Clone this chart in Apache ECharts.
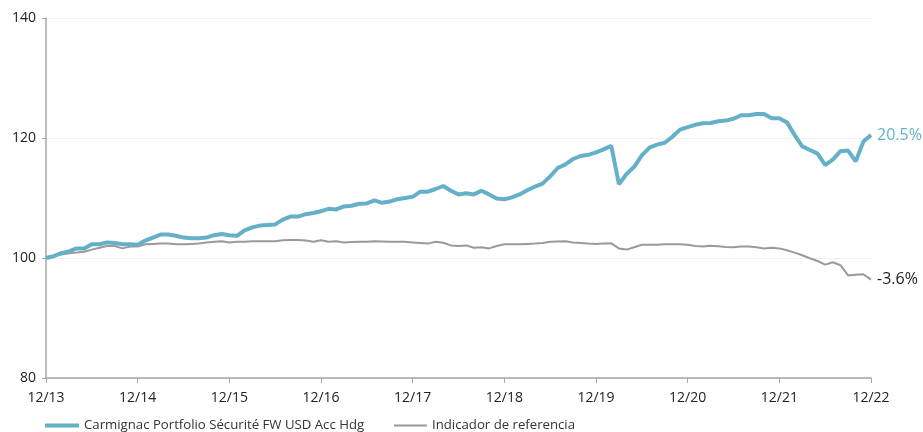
<!DOCTYPE html>
<html>
<head>
<meta charset="utf-8">
<script src="https://cdn.jsdelivr.net/npm/echarts@6/dist/echarts.min.js"></script>
<style>
html,body{margin:0;padding:0;background:#fff;}
#chart{width:923px;height:432px;}
</style>
</head>
<body>
<div id="chart"></div>
<script>
// Months from 12/2013 to 12/2022 (109 points); year labels shown every 12 months
var yearLabels = ['12/13','12/14','12/15','12/16','12/17','12/18','12/19','12/20','12/21','12/22'];
var seriesNames = ['Carmignac Portfolio Sécurité FW USD Acc Hdg', 'Indicador de referencia'];

var fundValues = [
  100.0,100.3,100.8,101.1,101.6,101.6,102.3,102.3,102.6,102.5,102.3,102.3,
  102.2,102.9,103.4,103.9,103.9,103.7,103.4,103.3,103.3,103.4,103.8,104.0,
  103.8,103.7,104.6,105.1,105.4,105.5,105.6,106.4,106.9,106.9,107.3,107.5,
  107.8,108.2,108.1,108.6,108.7,109.05,109.1,109.6,109.2,109.4,109.8,110.0,
  110.2,111.05,111.05,111.5,112.0,111.2,110.6,110.8,110.6,111.2,110.6,109.9,
  109.8,110.1,110.6,111.3,111.9,112.4,113.6,115.0,115.6,116.5,117.0,117.2,
  117.6,118.1,118.7,112.3,114.0,115.2,117.1,118.4,118.9,119.2,120.2,121.4,
  121.8,122.2,122.45,122.5,122.8,122.9,123.2,123.8,123.8,124.0,124.0,123.3,
  123.3,122.6,120.5,118.6,118.0,117.4,115.5,116.4,117.8,117.9,116.1,119.4,
  120.5
];
var benchValues = [
  100.0,100.3,100.6,100.8,100.9,101.05,101.4,101.7,102.0,102.0,101.6,101.9,
  101.9,102.3,102.35,102.4,102.4,102.3,102.3,102.35,102.4,102.6,102.7,102.8,
  102.6,102.7,102.7,102.8,102.8,102.8,102.8,102.95,103.0,103.0,102.9,102.7,
  102.95,102.7,102.8,102.6,102.65,102.7,102.7,102.8,102.75,102.7,102.7,102.7,
  102.6,102.5,102.4,102.7,102.55,102.1,102.0,102.1,101.7,101.8,101.6,102.0,
  102.3,102.3,102.3,102.35,102.4,102.5,102.7,102.75,102.8,102.6,102.5,102.4,
  102.35,102.4,102.45,101.6,101.4,101.8,102.2,102.2,102.2,102.3,102.3,102.3,
  102.2,102.0,101.9,102.05,101.95,101.85,101.8,101.9,101.9,101.8,101.6,101.7,
  101.6,101.3,100.9,100.45,99.95,99.5,98.9,99.3,98.8,97.1,97.2,97.3,
  96.4
];
var endLabels = ['20.5%', '-3.6%'];

var categories = [];
for (var i = 0; i < fundValues.length; i++) {
  categories.push(i % 12 === 0 ? yearLabels[i / 12] : '');
}

var FONT = '"Open Sans", "Noto Sans", sans-serif';
var legendText = { fontFamily: FONT, fontSize: 13.2, color: '#333' };
var chart = echarts.init(document.getElementById('chart'));
chart.setOption({
  animation: false,
  textStyle: { fontFamily: FONT },
  grid: { left: 46, right: 52, top: 18, bottom: 54, containLabel: false },
  legend: [
    {
      left: 40, top: 414, icon: 'rect',
      itemWidth: 34, itemHeight: 4, itemTextGap: 6,
      textStyle: legendText,
      data: [seriesNames[0]]
    },
    {
      left: 389, top: 414, icon: 'rect',
      itemWidth: 33, itemHeight: 2, itemTextGap: 7,
      textStyle: legendText,
      data: [seriesNames[1]]
    }
  ],
  xAxis: {
    type: 'category',
    data: categories,
    boundaryGap: false,
    axisLine: { lineStyle: { color: '#a6a6a6', width: 1.5 } },
    axisTick: { show: true, length: 5, lineStyle: { color: '#a6a6a6' },
      interval: function (idx) { return idx % 12 === 0; } },
    axisLabel: { interval: function (idx) { return idx % 12 === 0; },
      color: '#222', fontSize: 14, fontFamily: FONT, margin: 13 },
    splitLine: { show: false }
  },
  yAxis: {
    type: 'value', min: 80, max: 140, interval: 20,
    axisLine: { show: true, lineStyle: { color: '#a6a6a6', width: 1.5 } },
    axisTick: { show: true, length: 4, lineStyle: { color: '#a6a6a6' } },
    axisLabel: { color: '#222', fontSize: 14, fontFamily: FONT, margin: 10 },
    splitLine: { show: true, lineStyle: { color: '#efefef', width: 1 } }
  },
  series: [
    {
      name: seriesNames[0], type: 'line', data: fundValues,
      symbol: 'none', z: 3,
      lineStyle: { color: '#64b0c8', width: 4 },
      itemStyle: { color: '#64b0c8' },
      endLabel: { show: true, formatter: endLabels[0], color: '#64b0c8',
        fontSize: 16, fontFamily: FONT, distance: 6 }
    },
    {
      name: seriesNames[1], type: 'line', data: benchValues,
      symbol: 'none', z: 2,
      lineStyle: { color: '#9a9a9a', width: 2 },
      itemStyle: { color: '#9a9a9a' },
      endLabel: { show: true, formatter: endLabels[1], color: '#222',
        fontSize: 16, fontFamily: FONT, distance: 6 }
    }
  ]
});
</script>
</body>
</html>
